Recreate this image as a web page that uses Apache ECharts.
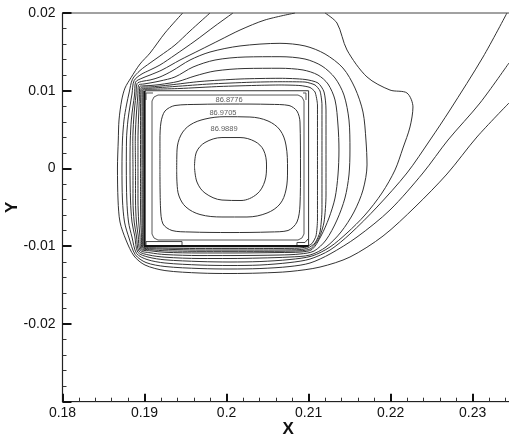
<!DOCTYPE html>
<html><head><meta charset="utf-8">
<script src="https://cdn.jsdelivr.net/npm/echarts/dist/echarts.min.js"></script>
<style>html,body{margin:0;padding:0;background:#fff}#c{width:509px;height:440px}</style>
</head><body><div id="c"></div>
<script>
// Open contour lines (enter at top-left, wrap around the heated block, leave at top/right)
const open1 = [[0.19465,0.02],[0.19249,0.01743],[0.19067,0.01485],[0.18945,0.01344],[0.18835,0.01168],[0.18762,0.01035],[0.18722,0.00881],[0.18689,0.00624],[0.18680,0.00366],[0.18670,0.00006],[0.18677,-0.00406],[0.18701,-0.00689],[0.18774,-0.00920],[0.18872,-0.01126],[0.19006,-0.01242],[0.19249,-0.01313],[0.19676,-0.01345],[0.20042,-0.01351],[0.20407,-0.01345],[0.20773,-0.01325],[0.21139,-0.01268],[0.21504,-0.01139],[0.21907,-0.00869],[0.22297,-0.00496],[0.22687,-0.00071],[0.23052,0.00405],[0.23442,0.00842]];
const open2 = [[0.19798,0.02],[0.19554,0.01768],[0.19371,0.01588],[0.19188,0.01447],[0.19067,0.01357],[0.18945,0.01260],[0.18853,0.01148],[0.18814,0.00984],[0.18780,0.00817],[0.18750,0.00624],[0.18731,0.00366],[0.18725,0.00006],[0.18731,-0.00406],[0.18756,-0.00689],[0.18811,-0.00894],[0.18887,-0.01109],[0.19018,-0.01210],[0.19249,-0.01261],[0.19676,-0.01287],[0.20042,-0.01293],[0.20407,-0.01287],[0.20773,-0.01261],[0.21017,-0.01216],[0.21261,-0.01100],[0.21590,-0.00882],[0.21992,-0.00534],[0.22394,-0.00058],[0.22699,0.00366],[0.23089,0.00842],[0.23442,0.01357]];
const open3 = [[0.20078,0.02],[0.19859,0.01833],[0.19615,0.01640],[0.19371,0.01460],[0.19188,0.01331],[0.19067,0.01267],[0.18957,0.01209],[0.18872,0.01129],[0.18847,0.00958],[0.18823,0.00804],[0.18798,0.00624],[0.18780,0.00366],[0.18778,0.00006],[0.18784,-0.00406],[0.18805,-0.00689],[0.18847,-0.00882],[0.18903,-0.01093],[0.19030,-0.01171],[0.19249,-0.01216],[0.19676,-0.01242],[0.20042,-0.01248],[0.20407,-0.01242],[0.20773,-0.01210],[0.21017,-0.01165],[0.21261,-0.01049],[0.21504,-0.00843],[0.21834,-0.00496],[0.22199,-0.00058],[0.22480,0.00366],[0.22723,0.00752],[0.23126,0.01434],[0.23418,0.02]];
const open4 = [[0.20834,0.02],[0.20468,0.01910],[0.20164,0.01781],[0.19920,0.01653],[0.19676,0.01524],[0.19432,0.01395],[0.19213,0.01267],[0.19067,0.01202],[0.18969,0.01161],[0.18890,0.01110],[0.18878,0.00945],[0.18859,0.00804],[0.18839,0.00624],[0.18826,0.00366],[0.18823,0.00006],[0.18829,-0.00406],[0.18847,-0.00689],[0.18881,-0.00869],[0.18918,-0.01077],[0.19042,-0.01139],[0.19249,-0.01175],[0.19676,-0.01197],[0.20042,-0.01203],[0.20407,-0.01197],[0.20773,-0.01171],[0.21041,-0.01126],[0.21261,-0.01010],[0.21468,-0.00830],[0.21687,-0.00599],[0.21894,-0.00316],[0.22053,-0.00020],[0.22150,0.00263],[0.22236,0.00534],[0.22272,0.00791],[0.22199,0.00971],[0.21992,0.01009],[0.21712,0.01177],[0.21468,0.01524],[0.21346,0.01871],[0.21200,0.02]];

// Closed contour loops around the block (outer to inner)
const loop1 = [[0.18859,0.00006],[0.18857,0.00366],[0.18867,0.00624],[0.18881,0.00804],[0.18896,0.00945],[0.18908,0.01091],[0.18981,0.01123],[0.19067,0.01138],[0.19188,0.01177],[0.19335,0.01254],[0.19554,0.01395],[0.19798,0.01498],[0.20164,0.01576],[0.20651,0.01610],[0.20956,0.01576],[0.21200,0.01473],[0.21419,0.01292],[0.21565,0.01035],[0.21663,0.00726],[0.21699,0.00366],[0.21712,0.00045],[0.21663,-0.00277],[0.21553,-0.00560],[0.21395,-0.00817],[0.21212,-0.01010],[0.21017,-0.01113],[0.20773,-0.01139],[0.20407,-0.01152],[0.20042,-0.01158],[0.19676,-0.01158],[0.19249,-0.01141],[0.19054,-0.01113],[0.18931,-0.01063],[0.18902,-0.00869],[0.18874,-0.00689],[0.18859,-0.00406],[0.18859,0.00006]];
const loop2 = [[0.18890,0.00006],[0.18887,0.00366],[0.18896,0.00624],[0.18908,0.00804],[0.18918,0.00932],[0.18926,0.01071],[0.18993,0.01087],[0.19067,0.01100],[0.19188,0.01125],[0.19371,0.01177],[0.19591,0.01305],[0.19859,0.01395],[0.20225,0.01434],[0.20651,0.01438],[0.20956,0.01408],[0.21163,0.01318],[0.21322,0.01164],[0.21431,0.00945],[0.21492,0.00624],[0.21504,0.00238],[0.21492,-0.00084],[0.21443,-0.00380],[0.21346,-0.00663],[0.21212,-0.00920],[0.21066,-0.01062],[0.20895,-0.01100],[0.20651,-0.01113],[0.20042,-0.01120],[0.19676,-0.01120],[0.19249,-0.01107],[0.19067,-0.01084],[0.18944,-0.01050],[0.18923,-0.00869],[0.18901,-0.00689],[0.18890,-0.00406],[0.18890,0.00006]];
const loop3 = [[0.18920,0.00006],[0.18920,0.00366],[0.18926,0.00624],[0.18933,0.00804],[0.18937,0.00919],[0.18942,0.01055],[0.18993,0.01063],[0.19067,0.01067],[0.19188,0.01080],[0.19408,0.01119],[0.19615,0.01190],[0.19859,0.01254],[0.20225,0.01286],[0.20651,0.01289],[0.20932,0.01267],[0.21114,0.01202],[0.21236,0.01087],[0.21322,0.00881],[0.21358,0.00559],[0.21370,0.00238],[0.21358,-0.00084],[0.21322,-0.00380],[0.21248,-0.00637],[0.21151,-0.00869],[0.21041,-0.01042],[0.20895,-0.01075],[0.20651,-0.01081],[0.20042,-0.01087],[0.19676,-0.01087],[0.19249,-0.01078],[0.19079,-0.01060],[0.18954,-0.01039],[0.18944,-0.00869],[0.18929,-0.00689],[0.18920,-0.00406],[0.18920,0.00006]];
const loop4 = [[0.18951,0.00006],[0.18951,0.00752],[0.18953,0.00919],[0.18957,0.01039],[0.18993,0.01048],[0.19067,0.01049],[0.19310,0.01074],[0.19676,0.01119],[0.20164,0.01151],[0.20651,0.01160],[0.20956,0.01145],[0.21114,0.01100],[0.21188,0.00984],[0.21212,0.00752],[0.21212,0.00238],[0.21212,-0.00341],[0.21188,-0.00689],[0.21127,-0.00894],[0.21029,-0.01030],[0.20895,-0.01059],[0.20407,-0.01066],[0.19676,-0.01066],[0.19249,-0.01059],[0.19091,-0.01046],[0.18964,-0.01028],[0.18962,-0.00869],[0.18954,-0.00689],[0.18951,-0.00406],[0.18951,0.00006]];
const loop5 = [[0.18969,0.00006],[0.18969,0.00881],[0.18969,0.01026],[0.18993,0.01031],[0.19067,0.01033],[0.19371,0.01055],[0.19798,0.01087],[0.20285,0.01109],[0.20651,0.01116],[0.20956,0.01112],[0.21078,0.01074],[0.21139,0.00997],[0.21163,0.00817],[0.21163,0.00238],[0.21163,-0.00534],[0.21139,-0.00817],[0.21078,-0.00959],[0.20993,-0.01023],[0.20895,-0.01044],[0.20407,-0.01049],[0.19676,-0.01049],[0.19091,-0.01033],[0.18974,-0.01018],[0.18973,-0.00894],[0.18970,-0.00689],[0.18969,-0.00406],[0.18969,0.00006]];
const loop6 = [[0.18981,0.00006],[0.18981,0.00881],[0.18981,0.01013],[0.19006,0.01018],[0.19128,0.01020],[0.19432,0.01029],[0.19920,0.01055],[0.20407,0.01070],[0.20651,0.01074],[0.20895,0.01067],[0.21017,0.01042],[0.21078,0.00984],[0.21108,0.00817],[0.21108,0.00238],[0.21108,-0.00663],[0.21090,-0.00869],[0.21041,-0.00965],[0.20968,-0.01010],[0.20871,-0.01026],[0.20407,-0.01030],[0.19676,-0.01030],[0.19091,-0.01021],[0.18981,-0.01010],[0.18981,-0.00894],[0.18981,-0.00406],[0.18981,0.00006]];

// Block outline and small features inside it
const blockLeftBottom = [[0.19,0.01],[0.19,-0.01],[0.21,-0.01]];
const blockTopRight = [[0.19,0.01],[0.21,0.01],[0.21,-0.01]];
const innerRect = [[0.19091,0.00006],[0.19091,0.00868],[0.19115,0.00919],[0.19164,0.00945],[0.20871,0.00945],[0.20919,0.00919],[0.20944,0.00868],[0.20944,-0.00843],[0.20919,-0.00894],[0.20871,-0.00920],[0.19164,-0.00920],[0.19115,-0.00894],[0.19091,-0.00843],[0.19091,0.00006]];
const tabBL = [[0.19018,-0.00997],[0.19018,-0.00940],[0.19457,-0.00940],[0.19457,-0.00997]];
const tabBR = [[0.20858,-0.00997],[0.20858,-0.00952],[0.20956,-0.00952],[0.20993,-0.00907]];
const tabTL = [[0.19018,0.00881],[0.19018,0.00971],[0.19103,0.00971]];
const tabTR = [[0.20932,0.00971],[0.20968,0.00971],[0.20968,0.00881]];

// Labelled inner isotherms
const iso86_8776 = [[0.19188,-0.00020],[0.19188,0.00366],[0.19201,0.00598],[0.19249,0.00739],[0.19371,0.00810],[0.19676,0.00825],[0.20042,0.00829],[0.20529,0.00825],[0.20761,0.00810],[0.20858,0.00739],[0.20895,0.00598],[0.20901,-0.00020],[0.20895,-0.00470],[0.20858,-0.00689],[0.20749,-0.00798],[0.20529,-0.00817],[0.20042,-0.00824],[0.19554,-0.00817],[0.19335,-0.00798],[0.19225,-0.00714],[0.19195,-0.00509],[0.19188,-0.00020]];
const iso86_9705 = [[0.19392,-0.00019],[0.19396,0.00238],[0.19444,0.00431],[0.19554,0.00559],[0.19737,0.00636],[0.19981,0.00666],[0.20285,0.00662],[0.20505,0.00611],[0.20651,0.00495],[0.20724,0.00302],[0.20743,-0.00019],[0.20724,-0.00277],[0.20651,-0.00457],[0.20493,-0.00573],[0.20249,-0.00624],[0.19944,-0.00624],[0.19676,-0.00592],[0.19505,-0.00496],[0.19420,-0.00354],[0.19396,-0.00187],[0.19392,-0.00019]];
const iso86_9889 = [[0.19609,0.00019],[0.19633,0.00212],[0.19737,0.00334],[0.19944,0.00398],[0.20164,0.00398],[0.20346,0.00347],[0.20450,0.00238],[0.20487,0.00045],[0.20467,-0.00161],[0.20371,-0.00328],[0.20176,-0.00412],[0.19944,-0.00406],[0.19737,-0.00316],[0.19639,-0.00174],[0.19609,0.00019]];

const labelTexts = ['86.8776','86.9705','86.9889'];
const labelPositions = [[0.20030,0.00881],[0.19956,0.00710],[0.19969,0.00504]];

const FONT = "'Liberation Sans', Arial, sans-serif";
const fmt = v => String(parseFloat(Number(v).toFixed(4)));

function line(data, smooth, width, color) {
  return {type:'line', data:data, showSymbol:false, symbol:'none', smooth:smooth,
    lineStyle:{color:color||'#333', width:width||1}, silent:true, z:3};
}

const series = [
  line(open1,0.3), line(open2,0.3), line(open3,0.3), line(open4,0.3),
  line(loop1,0.3), line(loop2,0.3), line(loop3,0.3), line(loop4,0.25), line(loop5,0.2), line(loop6,0.2),
  line(iso86_8776,0.3), line(iso86_9705,0.35), line(iso86_9889,0.35),
  line(innerRect,false,1,'#555'),
  line(tabBL,false,1,'#444'), line(tabBR,false,1,'#444'), line(tabTL,false,1,'#555'), line(tabTR,false,1,'#555'),
  line(blockTopRight,false,1,'#333'),
  line(blockLeftBottom,false,2.2,'#111'),
  {type:'scatter', symbolSize:0, silent:true, z:5,
   data: labelTexts.map((t,i)=>({name:t, value:labelPositions[i]})),
   label:{show:true, position:'inside', formatter:p=>p.name, fontSize:7.5, color:'#333', fontFamily:FONT}}
];

const chart = echarts.init(document.getElementById('c'), null, {renderer:'canvas'});
chart.setOption({
  animation:false,
  backgroundColor:'#fff',
  grid:{left:62.5, top:13, right:-4.7, bottom:38.3, containLabel:false, outerBoundsMode:'none',
    show:true, borderColor:'#444', borderWidth:1, backgroundColor:'transparent'},
  xAxis:{type:'value', min:0.18, max:0.235, interval:0.01,
    axisLine:{show:true, onZero:false, lineStyle:{color:'#222', width:1.2}},
    axisTick:{show:true, inside:true, length:8, lineStyle:{color:'#111', width:2}},
    minorTick:{show:true, splitNumber:5, length:4, lineStyle:{color:'#333', width:1}},
    splitLine:{show:false}, minorSplitLine:{show:false},
    axisLabel:{showMaxLabel:false, formatter:fmt, fontSize:14, color:'#111', margin:4, fontFamily:FONT},
    name:'X', nameLocation:'middle', nameGap:19, nameMoveOverlap:false,
    nameTextStyle:{fontSize:17, fontWeight:'bold', color:'#111', fontFamily:FONT}},
  yAxis:{type:'value', min:-0.03, max:0.02, interval:0.01,
    axisLine:{show:true, onZero:false, lineStyle:{color:'#222', width:1.2}},
    axisTick:{show:true, inside:true, length:9, lineStyle:{color:'#111', width:2}},
    minorTick:{show:true, splitNumber:5, length:4, lineStyle:{color:'#333', width:1}},
    splitLine:{show:false}, minorSplitLine:{show:false},
    axisLabel:{showMinLabel:false, formatter:fmt, fontSize:14, color:'#111', margin:7, fontFamily:FONT},
    name:'Y', nameLocation:'middle', nameGap:42, nameMoveOverlap:false,
    nameTextStyle:{fontSize:17, fontWeight:'bold', color:'#111', fontFamily:FONT}},
  series:series
});
</script></body></html>
